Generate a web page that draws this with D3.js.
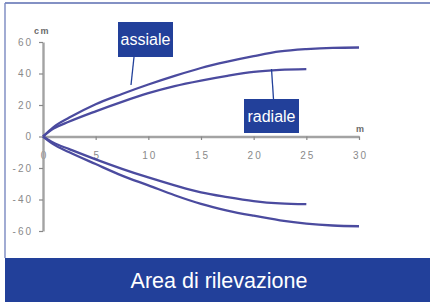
<!DOCTYPE html>
<html>
<head>
<meta charset="utf-8">
<script src="https://cdn.jsdelivr.net/npm/d3@7"></script>
<style>
  body { margin: 0; background: #fff; }
  svg { display: block; font-family: "Liberation Sans", Arial, sans-serif; }
  .axis path { stroke: #a3a3a3; stroke-width: 2.4; }
  .axis line { stroke: #888; stroke-width: 1.2; }
  .axis text { fill: #8a8a8a; font-size: 10px; letter-spacing: 2px; }
  .curve { fill: none; stroke: #4b4b9f; stroke-width: 2.3; }
</style>
</head>
<body>
<svg id="chart" width="430" height="304"></svg>
<script>
"use strict";

// distance (m)
const distAssiale = [0, 1, 2.5, 5, 7.5, 10, 12.5, 15, 17.5, 20, 22.5, 25, 27.5, 30];
const distRadiale = [0, 1, 2.5, 5, 7.5, 10, 12.5, 15, 17.5, 20, 22.5, 25];

// deflection (cm)
const assialeUp   = [0, 6, 12, 20.5, 27, 33, 38.5, 43.5, 47.5, 51, 54, 55.5, 56.3, 56.5];
const radialeUp   = [0, 5, 9.5, 16, 22, 27.5, 32, 35.5, 38.5, 41, 42.3, 42.8];
const assialeDown = [0, -5, -10, -17.5, -24.8, -31, -37.3, -42.8, -47, -50.3, -53.2, -55.3, -56.5, -57];
const radialeDown = [0, -4, -8, -14.5, -20.5, -26, -31, -35.5, -38.5, -41, -42.5, -43];

const xTicks = [0, 5, 10, 15, 20, 25, 30];
const yTicks = [-60, -40, -20, 0, 20, 40, 60];

const svg = d3.select("#chart");

// frame lines
svg.append("line")
    .attr("x1", 5).attr("x2", 430).attr("y1", 3).attr("y2", 3)
    .attr("stroke", "#5a6db0").attr("stroke-width", 1.6);
svg.append("line")
    .attr("x1", 5).attr("x2", 5).attr("y1", 3).attr("y2", 258)
    .attr("stroke", "#7a88c0").attr("stroke-width", 1.4);

const xScale = d3.scaleLinear().domain([0, 30]).range([43, 359]);
const yScale = d3.scaleLinear().domain([-60, 60]).range([231, 42]);

// plain hyphen for negatives, like the original
const fmt = d => String(d);

// x axis
const gx = svg.append("g")
    .attr("class", "axis")
    .attr("transform", "translate(0," + yScale(0) + ")")
    .call(d3.axisBottom(xScale).tickValues(xTicks).tickFormat(fmt)
        .tickSize(3.5).tickSizeOuter(0).tickPadding(12));
gx.selectAll("text").attr("dx", "1px");

// y axis
const gy = svg.append("g")
    .attr("class", "axis")
    .attr("transform", "translate(" + xScale(0) + ",0)")
    .call(d3.axisLeft(yScale).tickValues(yTicks).tickFormat(fmt)
        .tickSize(4).tickSizeOuter(0).tickPadding(6));

// axis unit labels
svg.append("text")
    .attr("x", 42).attr("y", 34)
    .attr("text-anchor", "middle")
    .style("font-size", "9px").style("font-weight", "bold")
    .style("letter-spacing", "1.5px")
    .attr("fill", "#6a6a6a")
    .text("cm");
svg.append("text")
    .attr("x", 360).attr("y", 131.5)
    .attr("text-anchor", "middle")
    .style("font-size", "9px").style("font-weight", "bold")
    .attr("fill", "#6a6a6a")
    .text("m");

// curves
const series = [
    { x: distAssiale, y: assialeUp },
    { x: distRadiale, y: radialeUp },
    { x: distAssiale, y: assialeDown },
    { x: distRadiale, y: radialeDown }
];

const line = d3.line()
    .x(d => xScale(d[0]))
    .y(d => yScale(d[1]))
    .curve(d3.curveMonotoneX);

svg.selectAll(".curve")
    .data(series)
    .enter().append("path")
    .attr("class", "curve")
    .attr("d", s => line(s.x.map((v, i) => [v, s.y[i]])));

// callout labels
const callouts = [
    { text: "assiale", box: [118, 22, 55, 35], from: [134, 57], to: [131, 85] },
    { text: "radiale", box: [244, 99, 55, 34], from: [273.5, 99], to: [271.5, 69] }
];

callouts.forEach(c => {
    svg.append("line")
        .attr("x1", c.from[0]).attr("y1", c.from[1])
        .attr("x2", c.to[0]).attr("y2", c.to[1])
        .attr("stroke", "#22409a").attr("stroke-width", 1.3);
    svg.append("rect")
        .attr("x", c.box[0]).attr("y", c.box[1])
        .attr("width", c.box[2]).attr("height", c.box[3])
        .attr("fill", "#22409a");
    svg.append("text")
        .attr("x", c.box[0] + c.box[2] / 2)
        .attr("y", c.box[1] + c.box[3] / 2 + 5.5)
        .attr("text-anchor", "middle")
        .style("font-size", "16px")
        .attr("fill", "#fff")
        .text(c.text);
});

// banner
svg.append("rect")
    .attr("x", 5).attr("y", 258)
    .attr("width", 425).attr("height", 44)
    .attr("fill", "#22409a");
svg.append("text")
    .attr("x", 219).attr("y", 288)
    .attr("text-anchor", "middle")
    .style("font-size", "21.5px")
    .attr("fill", "#fff")
    .text("Area di rilevazione");
</script>
</body>
</html>
